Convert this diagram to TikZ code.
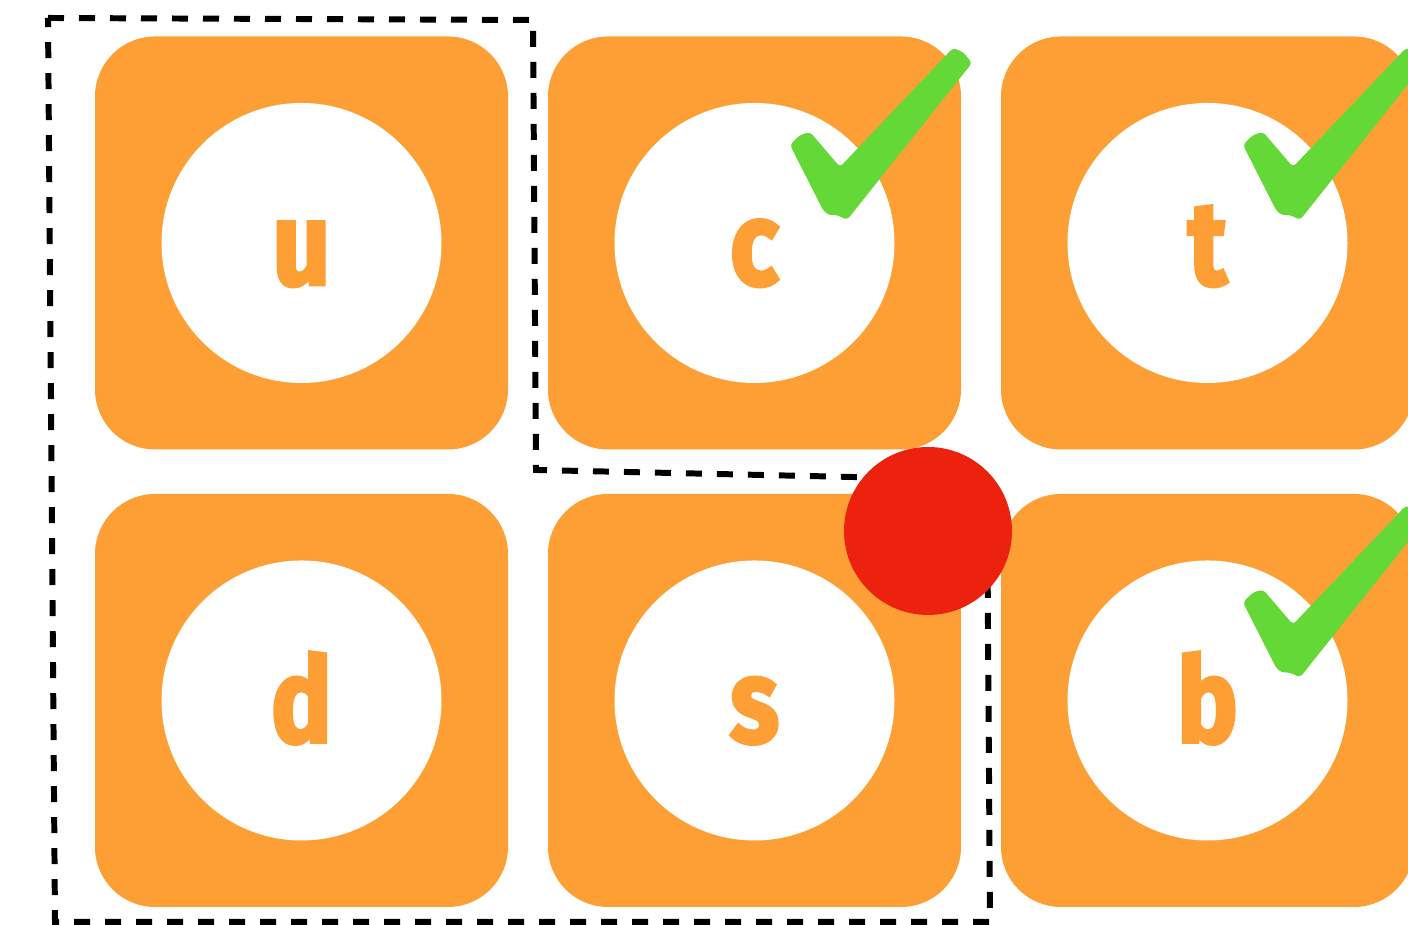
\documentclass[tikz,border=0pt]{standalone}
\usepackage{fontspec}
\newfontfamily\quarkfont{Fira Sans}[FakeStretch=0.85, BoldFeatures={FakeBold=2.5}]
\usetikzlibrary{math}
\definecolor{qorange}{RGB}{253,159,53}
\definecolor{qred}{RGB}{236,34,14}
\definecolor{qgreen}{RGB}{100,216,54}

\tikzset{
tile/.style={rectangle, fill=qorange, minimum size=4.13cm, inner sep=0pt, rounded corners=0.6cm},
disc/.style={circle, fill=white, minimum size=2.8cm, inner sep=0pt},
flavour/.style={anchor=base, text=qorange, inner sep=0pt, font=\quarkfont\bfseries\fontsize{34}{34}\selectfont},
tick/.pic={
\fill[qgreen, rounded corners=1pt] (0.355,0.98) -- (0.455,1.08) -- (0.555,1.11) -- (0.855,0.76)
  -- (1.985,1.95) -- (2.085,1.91) -- (2.175,1.80) -- (0.925,0.23) -- (0.825,0.28)
  -- (0.735,0.28) -- (0.685,0.33) -- cycle;
}
}

\begin{document}
\begin{tikzpicture}
\tikzmath{
\xa=3.015; \xb=7.545; \xc=12.075;
\ya=6.82; \yb=2.245;
}
\useasboundingbox (0,0) rectangle (14.08,9.25);

% tiles
\node[tile] (tileU) at (\xa,\ya) {};
\node[tile] (tileC) at (\xb,\ya) {};
\node[tile] (tileT) at (\xc,\ya) {};
\node[tile] (tileD) at (\xa,\yb) {};
\node[tile] (tileS) at (\xb,\yb) {};
\node[tile] (tileB) at (\xc,\yb) {};

\node[disc] (discU) at (tileU.center) {};
\node[disc] (discC) at (tileC.center) {};
\node[disc] (discT) at (tileT.center) {};
\node[disc] (discD) at (tileD.center) {};
\node[disc] (discS) at (tileS.center) {};
\node[disc] (discB) at (tileB.center) {};

\node[flavour] (u) at ([yshift=-4.2mm]discU.center) {u};
\node[flavour] (c) at ([yshift=-4.2mm]discC.center) {c};
\node[flavour] (t) at ([yshift=-4.2mm]discT.center) {t};
\node[flavour] (d) at ([yshift=-4.2mm]discD.center) {d};
\node[flavour] (s) at ([yshift=-4.2mm]discS.center) {s};
\node[flavour] (b) at ([yshift=-4.2mm]discB.center) {b};

% dashed outline
\draw[line width=1.7pt, dash pattern=on 1.6mm off 1.5mm] (0.48,9.07) -- (5.33,9.05) -- (5.36,4.55)
  -- (9.87,4.45) -- (9.90,0.03) -- (0.55,0.03) -- cycle;

\fill[color=qred] (9.28,3.94) circle(0.84);

\pic at (tileC.center) {tick};
\pic at (tileT.center) {tick};
\pic at (tileB.center) {tick};

\end{tikzpicture}
\end{document}
